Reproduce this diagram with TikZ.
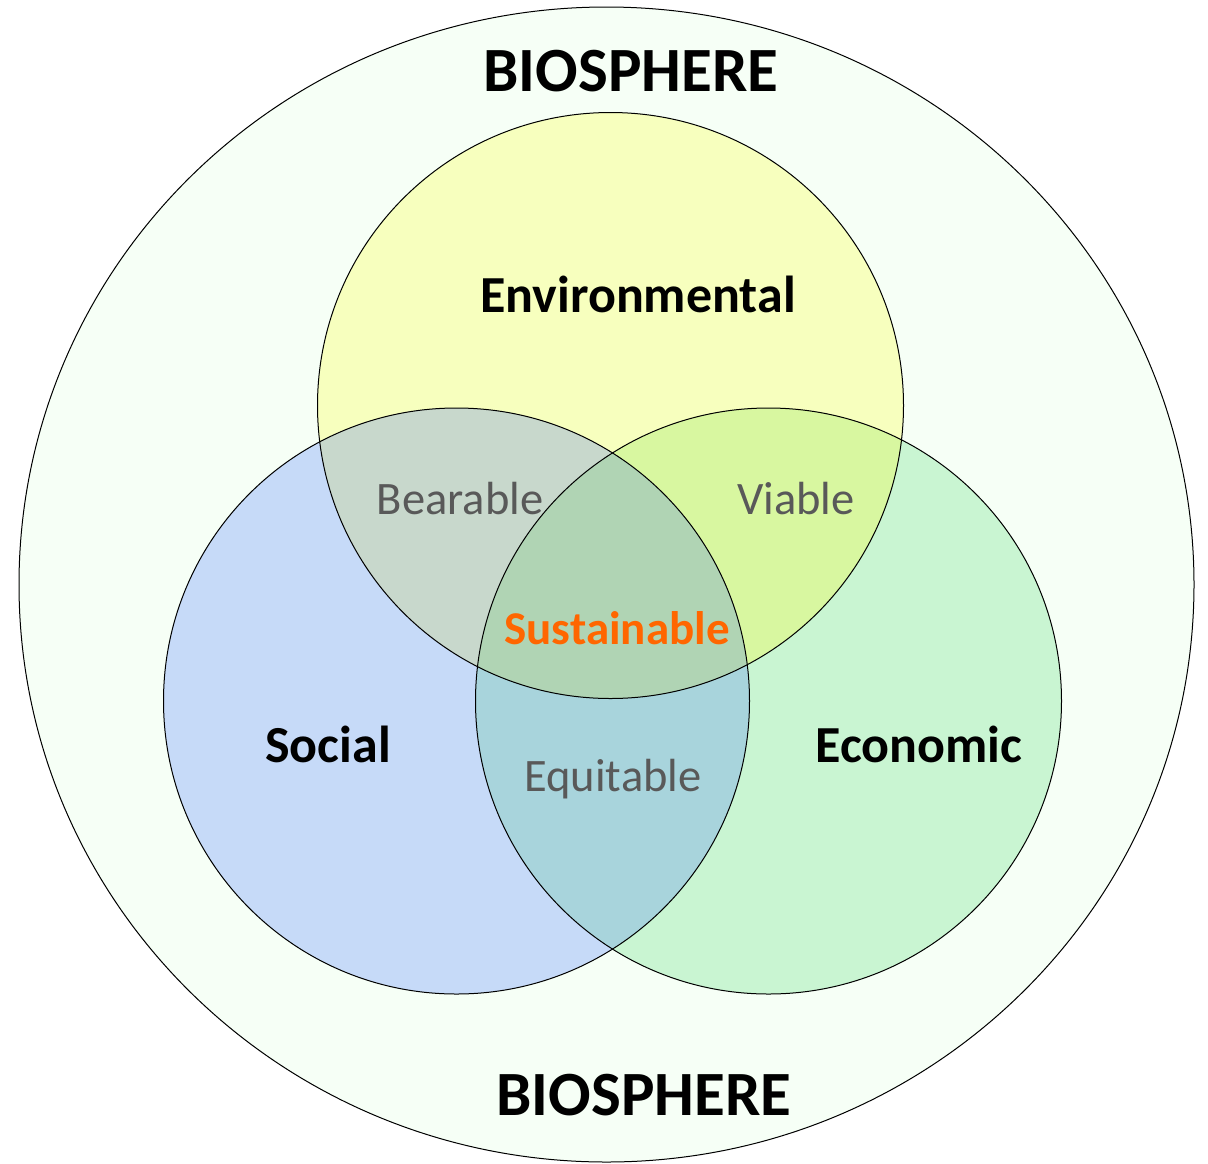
\documentclass[tikz,border=0pt]{standalone}
\usepackage{fontspec}
\setmainfont{Carlito}
\definecolor{bio}{HTML}{F6FFF6}
\definecolor{envc}{HTML}{F7FFBE}
\definecolor{socc}{HTML}{C6DAF8}
\definecolor{ecoc}{HTML}{C9F5D2}
\definecolor{bearc}{HTML}{C8D8CC}
\definecolor{viac}{HTML}{D8F7A0}
\definecolor{equc}{HTML}{A8D4DC}
\definecolor{susc}{HTML}{B0D4B4}
\definecolor{graytxt}{HTML}{595959}
\definecolor{orangetxt}{HTML}{FF6600}
\tikzset{
  ring/.style={draw=black, line width=1pt},
  bigtitle/.style={font=\fontsize{63}{70}\selectfont\bfseries, anchor=base, inner sep=0pt},
  setlabel/.style={font=\fontsize{52}{60}\selectfont\bfseries, anchor=base, inner sep=0pt},
  ovlabel/.style={font=\fontsize{46.5}{54}\selectfont, text=graytxt, anchor=base, inner sep=0pt},
}
\begin{document}
\begin{tikzpicture}[x=1pt,y=-1pt]
\useasboundingbox (0,0) rectangle (1208,1163);
\coordinate (B) at (606.5,584.5);
\coordinate (E) at (610.5,405.5);
\coordinate (S) at (456.5,701);
\coordinate (C) at (768.5,701);
\def\R{293}
% fills
\fill[bio] (B) ellipse [x radius=587.5, y radius=577.5];
\fill[envc] (E) circle (\R);
\fill[socc] (S) circle (\R);
\fill[ecoc] (C) circle (\R);
\begin{scope}
  \clip (E) circle (\R);
  \fill[bearc] (S) circle (\R);
\end{scope}
\begin{scope}
  \clip (E) circle (\R);
  \fill[viac] (C) circle (\R);
\end{scope}
\begin{scope}
  \clip (S) circle (\R);
  \fill[equc] (C) circle (\R);
\end{scope}
\begin{scope}
  \clip (S) circle (\R);
  \clip (C) circle (\R);
  \fill[susc] (E) circle (\R);
\end{scope}
% outlines
\draw[ring] (B) ellipse [x radius=587.5, y radius=577.5];
\draw[ring] (E) circle (\R);
\draw[ring] (S) circle (\R);
\draw[ring] (C) circle (\R);
% labels
\node[bigtitle] (bioT) at (631,91) {BIOSPHERE};
\node[bigtitle] (bioB) at (644,1115) {BIOSPHERE};
\node[setlabel] (env) at (638,312) {Environmental};
\node[setlabel] (soc) at (328,762) {Social};
\node[setlabel] (eco) at (919,762) {Economic};
\node[ovlabel] (bear) at (460,514) {Bearable};
\node[ovlabel] (via) at (796,514) {Viable};
\node[ovlabel] (equ) at (613,791) {Equitable};
\node[font=\fontsize{47}{54}\selectfont\bfseries, text=orangetxt, anchor=base, inner sep=0pt] (sus) at (617,644) {Sustainable};
\end{tikzpicture}
\end{document}
